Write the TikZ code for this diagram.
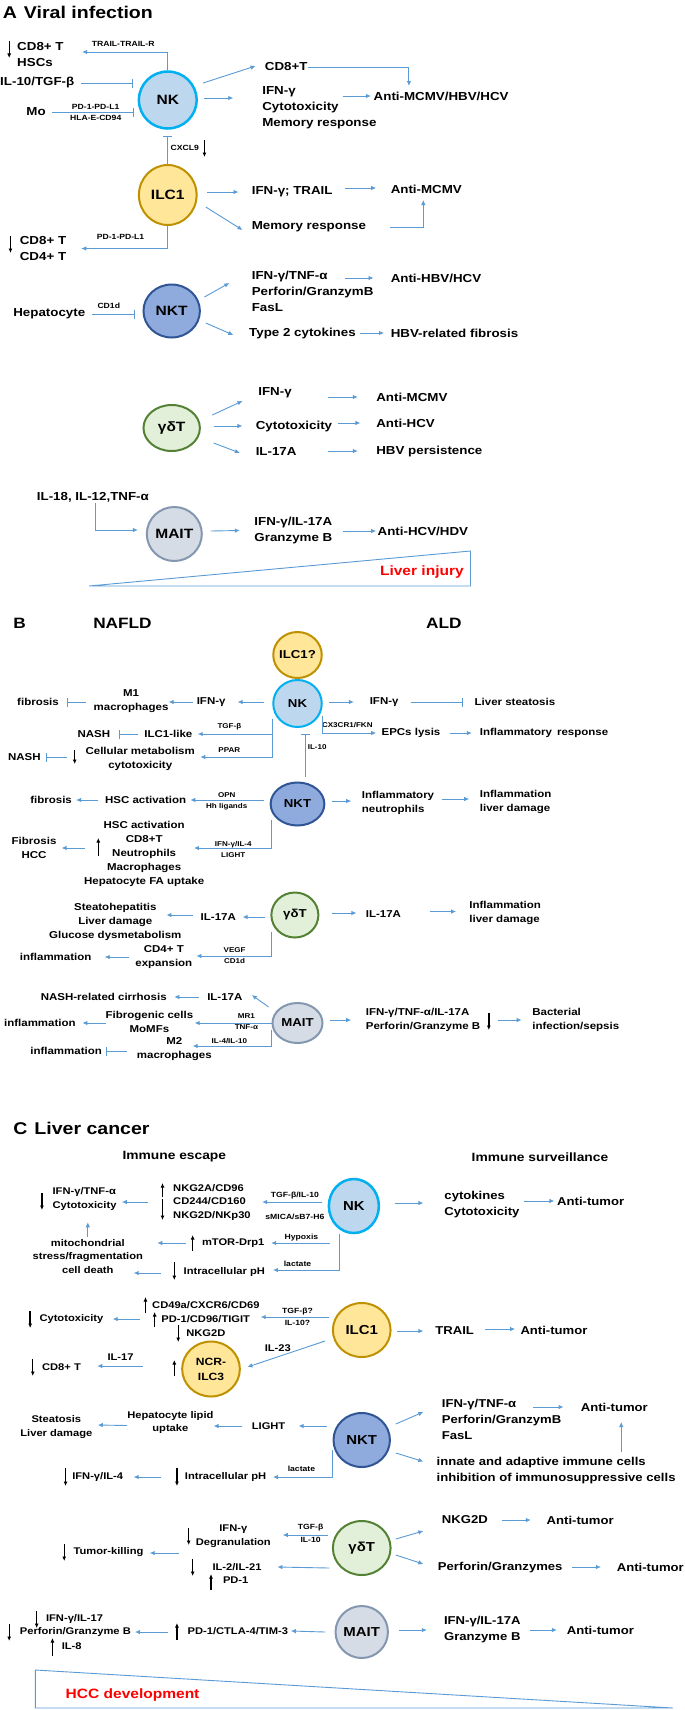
\documentclass[tikz,border=0pt]{standalone}
\usepackage{fontspec}
\setmainfont{Liberation Sans}[FakeStretch=1.15]
\newfontfamily\hdrfont{Liberation Sans}[FakeStretch=1.15]
\usetikzlibrary{arrows.meta,shapes.geometric,calc}
\definecolor{lb}{RGB}{91,155,213}
\definecolor{nkf}{RGB}{189,215,238}
\definecolor{nkd}{RGB}{0,176,240}
\definecolor{ilf}{RGB}{255,230,153}
\definecolor{ild}{RGB}{191,144,0}
\definecolor{ntf}{RGB}{143,170,220}
\definecolor{ntd}{RGB}{47,85,151}
\definecolor{gdf}{RGB}{226,240,217}
\definecolor{gdd}{RGB}{84,130,53}
\definecolor{maf}{RGB}{214,220,229}
\definecolor{mad}{RGB}{132,151,176}
\newcommand\fntA{\bfseries\fontsize{11.6}{16}\selectfont}
\newcommand\fntB{\bfseries\fontsize{10}{14}\selectfont}
\newcommand\fntCR{\bfseries\fontsize{11.4}{16}\selectfont}
\newcommand\fntCL{\bfseries\fontsize{9.7}{13.5}\selectfont}
\newcommand\fntS{\bfseries\fontsize{7.5}{11}\selectfont}
\newcommand\fntSB{\bfseries\fontsize{7}{11}\selectfont}
\newcommand\fntH{\hdrfont\bfseries\fontsize{17}{18}\selectfont}
\newcommand\fntCellA{\bfseries\fontsize{13.5}{14}\selectfont}
\newcommand\fntCellB{\bfseries\fontsize{11.5}{14}\selectfont}
\newcommand\fntCellC{\bfseries\fontsize{13}{14}\selectfont}
\newcommand\zc[1]{\makebox[0pt][c]{#1}}
\tikzset{
 cell/.style={ellipse, inner sep=0pt, line width=2pt},
 nkst/.style={cell, draw=nkd, fill=nkf},
 ilst/.style={cell, draw=ild, fill=ilf},
 ntst/.style={cell, draw=ntd, fill=ntf},
 gdst/.style={cell, draw=gdd, fill=gdf},
 mast/.style={cell, draw=mad, fill=maf},
 tw/.style={inner sep=0pt, anchor=west, align=left},
 tc/.style={inner sep=0pt, align=center},
 arr/.style={draw=lb, line width=0.9pt, -{Latex[length=5pt,width=4.5pt]}},
 inh/.style={draw=lb, line width=0.9pt, -{Bar[width=9pt]}},
 blk/.style={draw=black, line width=1.3pt, -{Latex[length=4.5pt,width=4pt]}},
}
\begin{document}
\begin{tikzpicture}[x=1.3106pt,y=-1pt]
\fill[white] (0,0) rectangle (522.66,1710);
\useasboundingbox (0,0) rectangle (522.66,1710);

% ================= A =================
\node[tw,font=\fntH] (tA) at (2,12) {A\hspace{7pt}Viral infection};
\node[nkst,font=\fntCellA,minimum width=57.7,minimum height=57,line width=2.5pt] (nkA) at (128,100) {\zc{NK}};
\node[ilst,font=\fntCellA,minimum width=57.7,minimum height=60] (ilcA) at (128,195) {\zc{ILC1}};
\node[ntst,font=\fntCellA,minimum width=56.4,minimum height=53] (nktA) at (131,311) {\zc{NKT}};
\node[gdst,font=\fntCellA,minimum width=56.4,minimum height=46] (gdA) at (131,428) {\zc{γδT}};
\node[mast,font=\fntCellA,minimum width=55,minimum height=54] (maA) at (133,534) {\zc{MAIT}};

\node[tw,font=\fntA] (cd8A) at (13,54.5) {CD8+ T\\HSCs};
\draw[blk] (7,41) -- (7,58);
\node[tw,font=\fntA] (il10A) at (0,83) {IL-10/TGF-β};
\node[tw,font=\fntA] (moA) at (20,112) {Mo};
\node[tc,font=\fntS] (pdA1) at (73,112.5) {PD-1-PD-L1\\HLA-E-CD94};
\node[tc,font=\fntS] (trA) at (94,44) {TRAIL-TRAIL-R};
\node[tw,font=\fntA] (cd8tA) at (202,67) {CD8+T};
\node[tw,font=\fntA] (ifnA) at (200,107.5) {IFN-γ\\Cytotoxicity\\Memory response};
\node[tw,font=\fntA] (antiA) at (285,96) {Anti-MCMV/HBV/HCV};
\node[tw,font=\fntS] (cxA) at (130,148) {CXCL9};
\draw[blk] (156,140) -- (156,157);

\draw[arr] (nkA.north) |- ($(cd8A.east)+(14,-2.5)$);
\draw[inh] ($(il10A.east)+(5,0)$) -- ($(nkA.west |- il10A.east)+(-4,0)$);
\draw[inh] ($(moA.east)+(5,0)$) -- ($(nkA.west |- moA.east)+(-3,0)$);
\draw[arr] ($(nkA.center)+(27,-17)$) -- ($(cd8tA.west)+(-7,-1)$);
\draw[arr] (cd8tA.east) -| ($(antiA.west)+(27,-10)$);
\draw[arr] ($(nkA.east)+(5,-2)$) -- ($(ifnA.west)+(-22,-9.5)$);
\draw[arr] ($(antiA.west)+(-23,0)$) -- ($(antiA.west)+(-2,0)$);
\draw[inh] (ilcA.north) -- ($(nkA.south)+(0,6)$);

\node[tw,font=\fntA] (ifnTrA) at (192,192) {IFN-γ; TRAIL};
\node[tw,font=\fntA] (antiMA) at (298,189) {Anti-MCMV};
\node[tw,font=\fntA] (memA) at (192,227) {Memory response};
\node[tw,font=\fntA] (cd4A) at (15,248.5) {CD8+ T\\CD4+ T};
\draw[blk] (8,236) -- (8,253);
\node[tc,font=\fntS] (pdA2) at (92,237) {PD-1-PD-L1};
\draw[arr] ($(ilcA.east)+(7,-3)$) -- ($(ifnTrA.west)+(-10,0)$);
\draw[arr] ($(antiMA.west)+(-35,-1)$) -- ($(antiMA.west)+(-11,-1)$);
\draw[arr] ($(ilcA.center)+(29,12)$) -- ($(memA.west)+(-7,3)$);
\draw[arr] ($(memA.east)+(18,0)$) -| ($(antiMA.west)+(25,11)$);
\draw[arr] (ilcA.south) |- ($(cd4A.west)+(47,0)$);

\node[tw,font=\fntA] (ifnTnfA) at (192,291) {IFN-γ/TNF-α\\Perforin/GranzymB\\FasL};
\node[tw,font=\fntA] (antiHA) at (298,278) {Anti-HBV/HCV};
\node[tw,font=\fntA] (type2A) at (190,333) {Type 2 cytokines};
\node[tw,font=\fntA] (hbvfA) at (298,333) {HBV-related fibrosis};
\node[tw,font=\fntA] (hepA) at (10,314) {Hepatocyte};
\node[tc,font=\fntS] (cd1dA) at (83,306) {CD1d};
\draw[arr] ($(nktA.center)+(25,-14)$) -- ($(ifnTnfA.west)+(-17,-8)$);
\draw[arr] ($(antiHA.west)+(-35,0)$) -- ($(antiHA.west)+(-13,0)$);
\draw[arr] ($(nktA.center)+(26,12)$) -- ($(type2A.west)+(-12,2)$);
\draw[arr] ($(hbvfA.west)+(-23,0)$) -- ($(hbvfA.west)+(-5,0)$);
\draw[inh] ($(hepA.east)+(5,0)$) -- ($(nktA.west |- hepA.east)+(-6,0)$);

\node[tw,font=\fntA] (ifnG) at (197,393) {IFN-γ};
\node[tw,font=\fntA] (antiMG) at (287,397) {Anti-MCMV};
\node[tw,font=\fntA] (cytoG) at (195,426) {Cytotoxicity};
\node[tw,font=\fntA] (antiHG) at (287,423) {Anti-HCV};
\node[tw,font=\fntA] (il17G) at (195,452) {IL-17A};
\node[tw,font=\fntA] (hbvpG) at (287,451) {HBV persistence};
\draw[arr] ($(gdA.center)+(31,-13)$) -- ($(ifnG.west)+(-12,8)$);
\draw[arr] ($(antiMG.west)+(-37,0)$) -- ($(antiMG.west)+(-14,0)$);
\draw[arr] ($(gdA.center)+(32,-2)$) -- ($(cytoG.west)+(-10,0)$);
\draw[arr] ($(antiHG.west)+(-29,0)$) -- ($(antiHG.west)+(-12,0)$);
\draw[arr] ($(gdA.center)+(32,15)$) -- ($(il17G.west)+(-12,1)$);
\draw[arr] ($(hbvpG.west)+(-37,0)$) -- ($(hbvpG.west)+(-14,0)$);

\node[tw,font=\fntA] (il18A) at (28,497) {IL-18, IL-12,TNF-α};
\node[tw,font=\fntA] (ifnMA) at (194,530.5) {IFN-γ/IL-17A\\Granzyme B};
\node[tw,font=\fntA] (antiHDA) at (288,531) {Anti-HCV/HDV};
\draw[arr] ($(il18A.west)+(45,6)$) |- ($(maA.west)+(-6,-4)$);
\draw[arr] ($(maA.east)+(6,-3)$) -- ($(ifnMA.west)+(-11,0)$);
\draw[arr] ($(antiHDA.west)+(-26,0)$) -- ($(antiHDA.west)+(-1,0)$);

\draw[lb, line width=0.9pt] (68,586) -- (359,586) -- (359,551) -- cycle;
\node[anchor=east,inner sep=0pt,font=\bfseries\fontsize{13.5}{14}\selectfont,text=red] (liA) at (354,572) {Liver injury};

% ================= B =================
\node[tw,font=\hdrfont\bfseries\fontsize{15}{16}\selectfont] (tB) at (10,623) {B};
\node[tw,font=\hdrfont\bfseries\fontsize{15}{16}\selectfont] (nafB) at (71,623) {NAFLD};
\node[tw,font=\hdrfont\bfseries\fontsize{15}{16}\selectfont] (aldB) at (325,623) {ALD};

\node[ilst,font=\fntCellB,minimum width=48.5,minimum height=46] (ilqB) at (227,655) {\zc{ILC1?}};
\node[nkst,font=\fntCellB,minimum width=48.5,minimum height=47] (nkB) at (227,703.5) {\zc{NK}};
\node[ntst,font=\fntCellB,minimum width=53.7,minimum height=43] (nktB) at (227,804) {\zc{NKT}};
\node[gdst,font=\fntCellB,minimum width=47,minimum height=45] (gdB) at (225,915) {\zc{γδT}};
\node[mast,font=\fntCellB,minimum width=50,minimum height=40] (maB) at (227,1023) {\zc{MAIT}};

\node[tw,font=\fntB] (ifnB1) at (150,702) {IFN-γ};
\node[tc,font=\fntB] (m1B) at (100,701) {M1\\macrophages};
\node[tw,font=\fntB] (fibB1) at (13,702) {fibrosis};
\node[tw,font=\fntB] (ifnB2) at (282,702) {IFN-γ};
\node[tw,font=\fntB] (steaB) at (362,702) {Liver steatosis};
\draw[arr] ($(nkB.west)+(-6,-1.5)$) -- ($(ifnB1.east)+(9,0)$);
\draw[arr] ($(ifnB1.west)+(-3,0)$) -- (m1B.east |- ifnB1.west);
\draw[inh] ($(m1B.west |- fibB1.east)+(-6,0)$) -- ($(fibB1.east)+(6,0)$);
\draw[arr] ($(nkB.east)+(5,-1.5)$) -- ($(ifnB2.west)+(-12,0)$);
\draw[inh] ($(ifnB2.east)+(9,0)$) -- ($(steaB.west)+(-9,0)$);

\node[tw,font=\fntB] (ilclB) at (110,734) {ILC1-like};
\node[tw,font=\fntB] (nash1B) at (59,734) {NASH};
\node[tc,font=\fntB] (cellB) at (107,758.5) {Cellular metabolism\\cytotoxicity};
\node[tw,font=\fntB] (nash2B) at (6,757) {NASH};
\draw[blk] (57,750) -- (57,764);
\node[tc,font=\fntSB] (tgfB) at (175,727) {TGF-β};
\node[tc,font=\fntSB] (pparB) at (175,750) {PPAR};
\draw[arr] ($(nkB.center)+(-19,15)$) |- ($(ilclB.east)+(4,0)$);
\draw[arr] ($(nkB.center)+(-19,15)$) |- ($(cellB.east)+(4,-1.5)$);
\draw[inh] ($(ilclB.west)+(-5,0)$) -- ($(nash1B.east)+(7,0)$);
\draw[inh] ($(nash2B.east)+(20,0)$) -- ($(nash2B.east)+(4,0)$);

\node[tw,font=\fntB] (epcB) at (291,733) {EPCs lysis};
\node[tw,font=\fntB] (inflB) at (366,733) {Inflammatory\hspace{5pt}response};
\node[tc,font=\fntSB] (cx3B) at (265,725) {CX3CR1/FKN};
\draw[arr] ($(nkB.center)+(19,12)$) |- ($(epcB.west)+(-4,0)$);
\draw[arr] ($(inflB.west)+(-23,0)$) -- ($(inflB.west)+(-6,0)$);
\draw[inh] ($(nktB.north)+(6,-5)$) -- ($(nkB.south)+(6,6)$);
\node[tc,font=\fntSB] (il10B) at (242,747) {IL-10};

\node[tw,font=\fntB] (hscB) at (80,800) {HSC activation};
\node[tw,font=\fntB] (fibB2) at (23,800) {fibrosis};
\node[tc,font=\fntSB] (opnB) at (173,801.5) {OPN\\Hh ligands};
\node[tw,font=\fntB] (inflnB) at (276,803) {Inflammatory\\neutrophils};
\node[tw,font=\fntB] (inflmB) at (366,802) {Inflammation\\liver damage};
\draw[arr] ($(nktB.west |- hscB.east)+(-4,0)$) -- ($(hscB.east)+(3,0)$);
\draw[arr] ($(hscB.west)+(-5,0)$) -- ($(fibB2.east)+(3,0)$);
\draw[arr] ($(nktB.east)+(5,-3)$) -- ($(inflnB.west)+(-8,-2)$);
\draw[arr] ($(inflmB.west)+(-29,-3)$) -- ($(inflmB.west)+(-8,-3)$);

\node[tc,font=\fntB] (hsc2B) at (110,854) {HSC activation\\CD8+T\\Neutrophils\\Macrophages\\Hepatocyte FA uptake};
\node[tc,font=\fntB] (fib3B) at (26,847.5) {Fibrosis\\HCC};
\draw[blk] (75,856) -- (75,838);
\node[tc,font=\fntSB] (ifn4B) at (178,849.5) {IFN-γ/IL-4\\LIGHT};
\draw[arr] ($(nktB.center)+(-20,16)$) |- ($(hsc2B.center)+(38,-6)$);
\draw[arr] ($(hsc2B.center)+(-45,-6)$) -- ($(hsc2B.center)+(-63,-6)$);

\node[tw,font=\fntB] (il17B1) at (153,917) {IL-17A};
\node[tc,font=\fntB] (steaB2) at (88,922) {Steatohepatitis\\Liver damage\\Glucose dysmetabolism};
\node[tw,font=\fntB] (il17B2) at (279,914) {IL-17A};
\node[tw,font=\fntB] (inflmB2) at (358,912.5) {Inflammation\\liver damage};
\node[tc,font=\fntB] (cd4B) at (125,957) {CD4+ T\\expansion};
\node[tw,font=\fntB] (inflB3) at (15,957) {inflammation};
\node[tc,font=\fntSB] (vegfB) at (179,956) {VEGF\\CD1d};
\draw[arr] ($(gdB.west)+(-4,2)$) -- ($(il17B1.east)+(5,0)$);
\draw[arr] ($(il17B1.west)+(-6,-2)$) -- ($(il17B1.west)+(-26,-2)$);
\draw[arr] ($(gdB.east)+(10,-2)$) -- ($(il17B2.west)+(-7,-1)$);
\draw[arr] ($(inflmB2.west)+(-30,-1)$) -- ($(inflmB2.west)+(-10,-1)$);
\draw[arr] ($(gdB.center)+(-18,17)$) |- ($(cd4B.east)+(3,-1)$);
\draw[arr] ($(cd4B.west)+(-5,0)$) -- ($(inflB3.east)+(10,0)$);

\node[tw,font=\fntB] (il17B3) at (158,997) {IL-17A};
\node[tw,font=\fntB] (nashcB) at (31,997) {NASH-related cirrhosis};
\node[tc,font=\fntB] (fibgB) at (114,1021.5) {Fibrogenic cells\\MoMFs};
\node[tw,font=\fntB] (inflB4) at (3,1023) {inflammation};
\node[tc,font=\fntSB] (mr1B) at (188,1022) {MR1\\TNF-α};
\node[tc,font=\fntB] (m2B) at (133,1049) {M2\\macrophages};
\node[tw,font=\fntB] (inflB5) at (23,1051) {inflammation};
\node[tc,font=\fntSB] (il4B) at (175,1041) {IL-4/IL-10};
\node[tw,font=\fntB] (ifnMB) at (279,1020) {IFN-γ/TNF-α/IL-17A\\Perforin/Granzyme B};
\node[tw,font=\fntB] (bactB) at (406,1020) {Bacterial\\infection/sepsis};
\draw[blk] (373,1013) -- (373,1030);
\draw[arr] ($(maB.center)+(-22,-16)$) -- ($(il17B3.east)+(7,-2)$);
\draw[arr] ($(il17B3.west)+(-6,0)$) -- ($(il17B3.west)+(-25,0)$);
\draw[arr] (maB.west) -- ($(fibgB.east |- maB.west)+(1,0)$);
\draw[arr] ($(inflB4.east)+(23,0)$) -- ($(inflB4.east)+(5,0)$);
\draw[arr] ($(maB.center)+(-20,7)$) |- ($(m2B.center)+(14,-3)$);
\draw[inh] ($(m2B.center)+(-36,2)$) -- ($(inflB5.east)+(3,0)$);
\draw[arr] ($(maB.east)+(5,-3)$) -- ($(ifnMB.west)+(-11,0)$);
\draw[arr] ($(bactB.west)+(-26,0)$) -- ($(bactB.west)+(-8,0)$);

% ================= C =================
\node[tw,font=\fntH] (tC) at (10,1128) {C\hspace{7pt}Liver cancer};
\node[tc,font=\hdrfont\bfseries\fontsize{12}{12}\selectfont] (escC) at (133,1157) {Immune escape};
\node[tc,font=\hdrfont\bfseries\fontsize{12}{12}\selectfont] (survC) at (412,1157) {Immune surveillance};

\node[nkst,font=\fntCellC,minimum width=50,minimum height=54,line width=2.5pt] (nkC) at (270,1206) {\zc{NK}};
\node[ilst,font=\fntCellC,minimum width=57.7,minimum height=54] (ilcC) at (276,1330) {\zc{ILC1}};
\node[ilst,font=\bfseries\fontsize{10.5}{15}\selectfont,minimum width=57.7,minimum height=55,align=center] (ncrC) at (161,1369) {NCR-\\ILC3};
\node[ntst,font=\fntCellC,minimum width=56.4,minimum height=54] (nktC) at (276,1440) {\zc{NKT}};
\node[gdst,font=\fntCellC,minimum width=57.7,minimum height=54] (gdC) at (276,1548) {\zc{γδT}};
\node[mast,font=\fntCellC,minimum width=52.4,minimum height=52] (maC) at (276,1632) {\zc{MAIT}};

\node[tw,font=\fntCR] (cytkC) at (339,1205) {cytokines\\Cytotoxicity};
\node[tw,font=\fntCR] (antiC1) at (425,1201) {Anti-tumor};
\draw[arr] ($(nkC.east)+(11,-3)$) -- ($(cytkC.west)+(-16,-2)$);
\draw[arr] ($(antiC1.west)+(-25,0)$) -- ($(antiC1.west)+(-2,0)$);

\node[tw,font=\fntCL] (nkg2C) at (132,1202) {NKG2A/CD96\\CD244/CD160\\NKG2D/NKp30};
\draw[blk] (124,1197) -- (124,1183);
\draw[blk] (124,1199) -- (124,1220);
\node[tc,font=\fntS] (tgfC) at (225,1196) {TGF-β/IL-10};
\node[tc,font=\fntS] (smicaC) at (225,1217) {sMICA/sB7-H6};
\node[tw,font=\fntCL] (ifnC) at (40,1199) {IFN-γ/TNF-α\\Cytotoxicity};
\draw[blk] (32,1193) -- (32,1210);
\node[tc,font=\fntCL] (mitoC) at (67,1256.5) {mitochondrial\\stress/fragmentation\\cell death};
\node[tw,font=\fntCL] (mtorC) at (154,1243) {mTOR-Drp1};
\draw[blk] (147,1251) -- (147,1235);
\node[tw,font=\fntCL] (intraC) at (140,1272) {Intracellular pH};
\draw[blk] (133,1262) -- (133,1280);
\node[tc,font=\fntS] (hypC) at (230,1238) {Hypoxis};
\node[tc,font=\fntS] (lacC) at (227,1264) {lactate};
\draw[arr] ($(nkC.west)+(-4,-4)$) -- ($(nkg2C.west)+(68,0)$);
\draw[arr] ($(nkg2C.west)+(-19,0)$) -- ($(nkg2C.west)+(-39,0)$);
\draw[arr] ($(mitoC.north)+(0,-2)$) -- ($(mitoC.north)+(0,-17)$);
\draw[arr] ($(nkC.center)+(-18,37)$) -- ($(mtorC.east)+(5,0)$);
\draw[arr] ($(mtorC.west)+(-12,0)$) -- ($(mtorC.west)+(-34,0)$);
\draw[arr] ($(nkC.south)+(-11,0)$) |- ($(intraC.east)+(6,-2)$);
\draw[arr] ($(intraC.west)+(-17,1)$) -- ($(intraC.west)+(-38,1)$);

\node[tw,font=\fntCR] (trailC) at (332,1331) {TRAIL};
\node[tw,font=\fntCR] (antiC2) at (397,1330) {Anti-tumor};
\draw[arr] ($(ilcC.east)+(4,1)$) -- ($(trailC.west)+(-9,0)$);
\draw[arr] ($(antiC2.west)+(-27,-1)$) -- ($(antiC2.west)+(-4,-1)$);
\node[tw,font=\fntCL] (cd49C) at (116,1305) {CD49a/CXCR6/CD69};
\draw[blk] (111,1313) -- (111,1297);
\node[tw,font=\fntCL] (pd1C) at (123,1319) {PD-1/CD96/TIGIT};
\draw[blk] (118,1327) -- (118,1312);
\node[tw,font=\fntCL] (nkg2dC) at (142,1333) {NKG2D};
\draw[blk] (136,1325) -- (136,1342);
\node[tc,font=\fntS] (tgf2C) at (227,1312) {TGF-β?};
\node[tc,font=\fntS] (il10qC) at (227,1323) {IL-10?};
\node[tw,font=\fntCL] (cytoC) at (30,1319) {Cytotoxicity};
\draw[blk] (23,1311) -- (23,1328);
\node[tc,font=\fntCL] (il23C) at (212,1348) {IL-23};
\node[tc,font=\fntCL] (il17C) at (92,1357) {IL-17};
\node[tw,font=\fntCL] (cd8C) at (32,1367) {CD8+ T};
\draw[blk] (25,1359) -- (25,1376);
\draw[blk] (133,1376) -- (133,1360);
\draw[arr] ($(ilcC.west)+(-2,-13)$) -- ($(pd1C.east)+(8,-2)$);
\draw[arr] ($(pd1C.west)+(-16,0)$) -- ($(pd1C.west)+(-37,0)$);
\draw[arr] ($(ilcC.center)+(-28,11)$) -- ($(ncrC.east)+(5,-2)$);
\draw[arr] ($(ncrC.west)+(-29,-3)$) -- ($(ncrC.west)+(-64,-3)$);

\node[tw,font=\fntCR] (ifnC3) at (337,1419) {IFN-γ/TNF-α\\Perforin/GranzymB\\FasL};
\node[tw,font=\fntCR] (antiC3) at (443,1407) {Anti-tumor};
\node[tw,font=\fntCR] (innC) at (333,1470.5) {innate and adaptive immune cells\\inhibition of immunosuppressive cells};
\node[tw,font=\fntCL] (lightC) at (192,1426) {LIGHT};
\node[tc,font=\fntCL] (hepC) at (130,1422.5) {Hepatocyte lipid\\uptake};
\node[tc,font=\fntCL] (steaC) at (43,1427) {Steatosis\\Liver damage};
\node[tc,font=\fntS] (lac2C) at (230,1469) {lactate};
\node[tw,font=\fntCL] (intra2C) at (141,1477) {Intracellular pH};
\draw[blk] (135,1468) -- (135,1486);
\node[tw,font=\fntCL] (ifn4C) at (55,1477) {IFN-γ/IL-4};
\draw[blk] (50,1468) -- (50,1486);
\draw[arr] ($(nktC.center)+(26,-16)$) -- ($(ifnC3.west)+(-14,-7)$);
\draw[arr] ($(antiC3.west)+(-36,0)$) -- ($(antiC3.west)+(-13,0)$);
\draw[arr] ($(innC.west)+(141,-19)$) -- ($(antiC3.west)+(31,15)$);
\draw[arr] ($(nktC.center)+(26,13)$) -- ($(innC.west)+(-10,-9)$);
\draw[arr] ($(nktC.west)+(-4,-14)$) -- ($(lightC.east)+(10,0)$);
\draw[arr] ($(lightC.west)+(-7,0)$) -- ($(lightC.west)+(-29,0)$);
\draw[arr] ($(hepC.center)+(-33,3)$) -- ($(steaC.east)+(4,-2)$);
\draw[arr] ($(nktC.center)+(-22,10)$) |- ($(intra2C.east)+(5,0)$);
\draw[arr] ($(intra2C.west)+(-18,0)$) -- ($(intra2C.west)+(-39,0)$);

\node[tw,font=\fntCR] (nkg2dC2) at (337,1520) {NKG2D};
\node[tw,font=\fntCR] (antiC4) at (417,1520) {Anti-tumor};
\node[tw,font=\fntCR] (perfC) at (334,1568) {Perforin/Granzymes};
\node[tw,font=\fntCR] (antiC5) at (470.5,1567) {Anti-tumor};
\node[tc,font=\fntS] (tgf3C) at (237,1528) {TGF-β};
\node[tc,font=\fntS] (il10C) at (237,1540) {IL-10};
\node[tc,font=\fntCL] (ifnC5) at (178,1536) {IFN-γ\\Degranulation};
\draw[blk] (144,1528) -- (144,1545);
\node[tw,font=\fntCL] (tumC) at (56,1552) {Tumor-killing};
\draw[blk] (49,1544) -- (49,1561);
\node[tw,font=\fntCL] (il2C) at (162,1567) {IL-2/IL-21};
\draw[blk] (147,1559) -- (147,1576);
\node[tw,font=\fntCL] (pd1bC) at (170,1580) {PD-1};
\draw[blk] (161,1590) -- (161,1574);
\draw[arr] ($(gdC.center)+(26,-9)$) -- ($(nkg2dC2.west)+(-14,11)$);
\draw[arr] ($(antiC4.west)+(-34,0)$) -- ($(antiC4.west)+(-12,0)$);
\draw[arr] ($(gdC.center)+(26,7)$) -- ($(perfC.west)+(-11,-4)$);
\draw[arr] ($(antiC5.west)+(-34,0)$) -- ($(antiC5.west)+(-12,0)$);
\draw[arr] ($(gdC.west)+(-3,-13)$) -- ($(ifnC5.east)+(9,-1)$);
\draw[arr] ($(ifnC5.west)+(-13,17)$) -- ($(ifnC5.west)+(-35,17)$);
\draw[arr] ($(gdC.west)+(-2,20)$) -- ($(il2C.east)+(12,0)$);

\node[tc,font=\fntCR] (ifnC6) at (368,1630) {IFN-γ/IL-17A\\Granzyme B};
\node[tw,font=\fntCR] (antiC6) at (432.4,1630) {Anti-tumor};
\node[tw,font=\fntCL] (pdctC) at (143,1631) {PD-1/CTLA-4/TIM-3};
\draw[blk] (135,1640) -- (135,1623);
\node[tw,font=\fntCL] (ifn7C) at (35,1619) {IFN-γ/IL-17};
\draw[blk] (28,1611) -- (28,1628);
\node[tw,font=\fntCL] (perf2C) at (15,1632) {Perforin/Granzyme B};
\draw[blk] (7,1624) -- (7,1641);
\node[tw,font=\fntCL] (il8C) at (47,1646) {IL-8};
\draw[blk] (40,1656) -- (40,1638);
\draw[arr] ($(maC.east)+(8,-2)$) -- ($(ifnC6.west)+(-13,0)$);
\draw[arr] ($(antiC6.west)+(-28,0)$) -- ($(antiC6.west)+(-7.5,0)$);
\draw[arr] ($(maC.west)+(-7,0)$) -- ($(pdctC.east)+(2,0)$);
\draw[arr] ($(pdctC.west)+(-15,1)$) -- ($(pdctC.west)+(-40,1)$);

\draw[lb, line width=0.9pt] (27,1670) -- (27,1708) -- (513.5,1708) -- cycle;
\node[tw,font=\bfseries\fontsize{13.5}{14}\selectfont,text=red] (hccC) at (50,1695) {HCC development};
\end{tikzpicture}
\end{document}
